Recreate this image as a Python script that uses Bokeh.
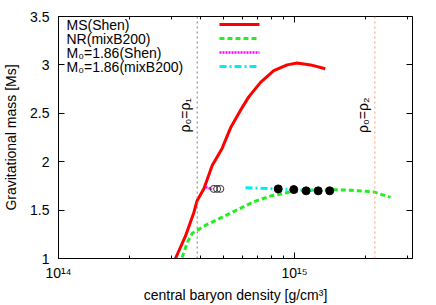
import math
from bokeh.plotting import figure
from bokeh.models import (FixedTicker, LogAxis, LinearAxis, Span, Label, Arrow)
from bokeh.embed import file_html
from bokeh.resources import INLINE

# ---------------- data ----------------
ms_shen_rho = [3.13e14, 3.45e14, 3.74e14, 3.87e14, 4.13e14, 4.48e14, 4.94e14, 5.36e14,
               5.90e14, 6.40e14, 7.18e14, 8.17e14, 9.31e14, 1.026e15, 1.17e15, 1.35e15]
ms_shen_mass = [1.00, 1.23, 1.47, 1.60, 1.72, 1.96, 2.14, 2.35,
                2.53, 2.67, 2.82, 2.94, 3.00, 3.02, 3.00, 2.96]

nr_mix_rho = [3.34e14, 3.51e14, 3.69e14, 4.13e14, 4.85e14, 5.72e14, 6.73e14, 7.91e14,
              9.62e14, 1.13e15, 1.42e15, 1.73e15, 2.17e15, 2.55e15]
nr_mix_mass = [1.01, 1.165, 1.26, 1.334, 1.418, 1.503, 1.587, 1.645,
               1.688, 1.705, 1.712, 1.705, 1.688, 1.631]

m186_shen_rho = [4.20e14, 4.48e14]
m186_shen_mass = [1.737, 1.717]
m186_shen_pts_rho = [4.55e14, 4.70e14, 4.85e14]
m186_shen_pts_mass = [1.719, 1.719, 1.719]

m186_mix_rho = [6.20e14, 9.0e14, 1.25e15]
m186_mix_mass = [1.732, 1.716, 1.700]
m186_mix_pts_rho = [8.53e14, 9.93e14, 1.12e15, 1.26e15, 1.41e15]
m186_mix_pts_mass = [1.719, 1.712, 1.699, 1.699, 1.699]

rho1 = 3.87e14
rho2 = 2.19e15

x_tick_values = [1e14, 1e15]
x_tick_labels = ["10\u00b9\u2074", "10\u00b9\u2075"]
x_minor_ticks = [2e14, 3e14, 4e14, 5e14, 6e14, 7e14, 8e14, 9e14, 2e15, 3e15]
y_tick_values = [1, 1.5, 2, 2.5, 3, 3.5]
y_tick_labels = ["1", "1.5", "2", "2.5", "3", "3.5"]

legend_labels = ["MS(Shen)", "NR(mixB200)", "M\u2080=1.86(Shen)", "M\u2080=1.86(mixB200)"]

# ---------------- styles ----------------
FONT = "Liberation Sans"
FS = "14px"
RED = "#ff0000"
GREEN = "#22ee22"
MAGENTA = "#ff00ff"
CYAN = "#00eeee"

p = figure(width=436, height=305, x_axis_type="log",
           x_range=(1e14, 10 ** 15.5), y_range=(1, 3.5),
           output_backend="svg", toolbar_location=None,
           min_border_left=58, min_border_right=24, min_border_top=16, min_border_bottom=42)

p.xgrid.visible = False
p.ygrid.visible = False
p.outline_line_color = "black"
p.outline_line_width = 1
p.background_fill_color = "white"
p.border_fill_color = "white"

xt = FixedTicker(ticks=x_tick_values, minor_ticks=x_minor_ticks)
yt = FixedTicker(ticks=y_tick_values, minor_ticks=[])

def style_axis(ax):
    ax.axis_line_color = "black"
    ax.major_tick_line_color = "black"
    ax.minor_tick_line_color = "black"
    ax.major_tick_in = 6
    ax.major_tick_out = 0
    ax.minor_tick_in = 3
    ax.minor_tick_out = 0
    ax.major_label_text_font = FONT
    ax.major_label_text_font_size = FS
    ax.major_label_text_color = "black"
    ax.axis_label_text_font = FONT
    ax.axis_label_text_font_size = FS
    ax.axis_label_text_font_style = "normal"
    ax.axis_label_text_color = "black"

xa = p.xaxis[0]
xa.ticker = xt
xa.major_label_overrides = dict(zip(x_tick_values, x_tick_labels))
xa.axis_label = "central baryon density [g/cm\u00b3]"
style_axis(xa)
xa.major_label_standoff = 6
xa.axis_label_standoff = 3

ya = p.yaxis[0]
ya.ticker = yt
ya.major_label_overrides = dict(zip(y_tick_values, y_tick_labels))
ya.axis_label = "Gravitational mass [Ms]"
style_axis(ya)
ya.major_label_standoff = 9
ya.axis_label_standoff = 8

top = LogAxis(ticker=xt)
style_axis(top)
top.major_label_overrides = {v: "" for v in x_tick_values}
top.major_label_text_font_size = "0px"
top.major_label_standoff = 0
top.axis_line_color = None
p.add_layout(top, "above")

right = LinearAxis(ticker=yt)
style_axis(right)
right.major_label_overrides = {v: "" for v in y_tick_values}
right.major_label_text_font_size = "0px"
right.major_label_standoff = 0
right.axis_line_color = None
p.add_layout(right, "right")

# vertical reference lines
p.add_layout(Span(location=rho1, dimension="height", line_color="#777777",
                  line_width=1, line_dash="2 3"))
p.add_layout(Span(location=rho2, dimension="height", line_color="#ff9966",
                  line_width=1, line_dash="2 3"))
for loc, txt in [(rho1, "\u03c1\u2080=\u03c1\u2081"), (rho2, "\u03c1\u2080=\u03c1\u2082")]:
    p.add_layout(Label(x=loc, y=2.48, text=txt, angle=math.pi / 2,
                       text_align="center", text_baseline="bottom", x_offset=-4,
                       text_font=FONT, text_font_size=FS, text_color="black"))

# curves
p.line(ms_shen_rho, ms_shen_mass, line_color=RED, line_width=3)
p.line(nr_mix_rho, nr_mix_mass, line_color=GREEN, line_width=3, line_dash="5 3")
p.line(m186_shen_rho, m186_shen_mass, line_color=MAGENTA, line_width=2.5, line_dash="2 1")
p.scatter(m186_shen_pts_rho, m186_shen_pts_mass, size=7, marker="circle",
          fill_color="white", fill_alpha=0.0, line_color="#333333", line_width=1)
p.line(m186_mix_rho, m186_mix_mass, line_color=CYAN, line_width=3, line_dash="7 3 2 3")
p.scatter(m186_mix_pts_rho, m186_mix_pts_mass, size=8, marker="circle",
          fill_color="black", line_color="black")

# legend (label left, sample right), positioned in screen units of the frame
leg_styles = [
    dict(line_color=RED, line_width=3, line_dash="solid"),
    dict(line_color=GREEN, line_width=3, line_dash="5 3"),
    dict(line_color=MAGENTA, line_width=2.5, line_dash="2 1"),
    dict(line_color=CYAN, line_width=3, line_dash="7 3 2 3"),
]
row_y0 = 234
row_dy = 14
for i, (lab, st) in enumerate(zip(legend_labels, leg_styles)):
    yy = row_y0 - i * row_dy
    p.add_layout(Label(x=8, y=yy, x_units="screen", y_units="screen", text=lab,
                       text_align="left", text_baseline="middle",
                       text_font=FONT, text_font_size=FS, text_color="black"))
    p.add_layout(Arrow(x_start=161, y_start=yy, x_end=201, y_end=yy,
                       start_units="screen", end_units="screen", start=None, end=None,
                       **st))

open("out.html", "w").write(file_html(p, INLINE))
